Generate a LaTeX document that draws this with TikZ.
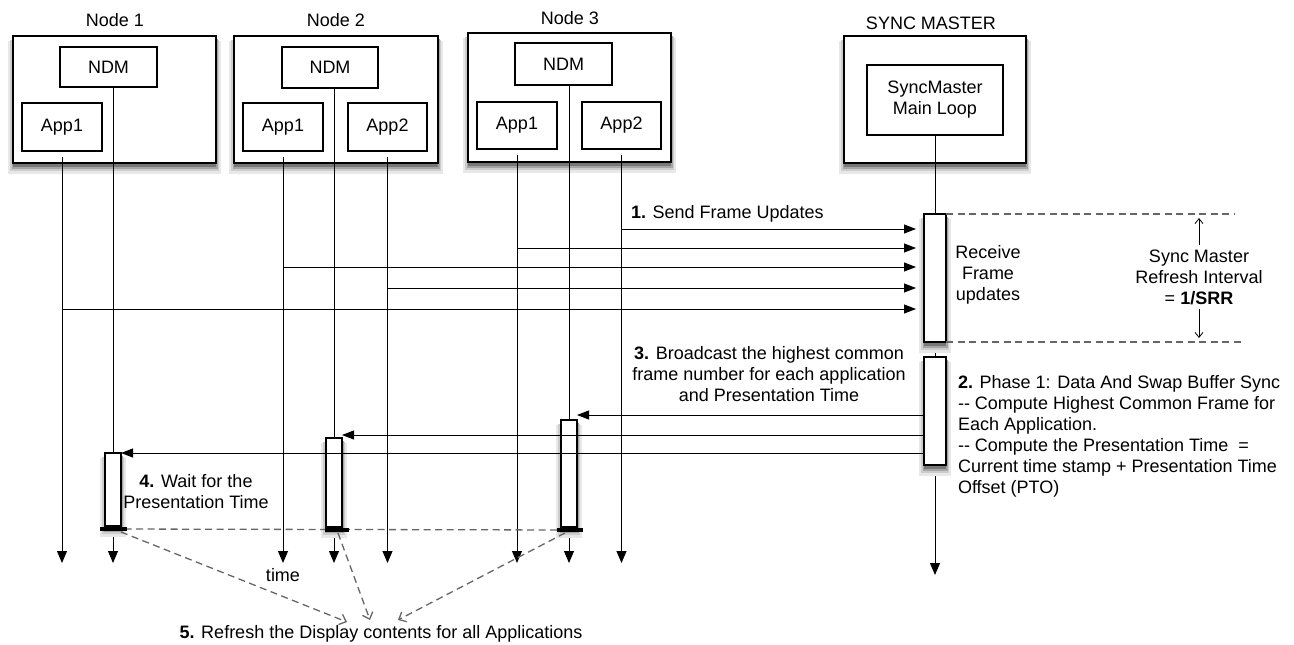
\documentclass[tikz,border=0pt]{standalone}
\usepackage{fontspec}
\setmainfont{Liberation Sans}
\usetikzlibrary{arrows.meta}
\definecolor{shA}{RGB}{232,232,232}
\definecolor{shB}{RGB}{205,205,205}
\definecolor{shC}{RGB}{165,165,165}
\definecolor{shD}{RGB}{120,120,120}
\newcommand\softshadow[4]{% x (left), y (top), width, height
  \path[fill=shA] (#1-5,#2+5) rectangle (#1+#3+5,#2+#4+11);
  \path[fill=shB] (#1-3,#2+4) rectangle (#1+#3+3,#2+#4+8);
  \path[fill=shC] (#1-1.5,#2+3) rectangle (#1+#3+1.5,#2+#4+6);
  \path[fill=shD] (#1,#2+2) rectangle (#1+#3,#2+#4+3.5);
}
\begin{document}
\begin{tikzpicture}[x=1pt,y=-1pt,
  every node/.style={font=\fontsize{18}{21}\selectfont, inner sep=0pt, outer sep=0pt},
  outer/.style={draw, line width=1.4pt, fill=white, anchor=north west},
  inbox/.style={draw, line width=1.1pt, fill=white, align=center, anchor=north west},
  act/.style={draw, line width=1.1pt, fill=white, anchor=north},
  life/.style={line width=1pt},
  lifearrow/.style={line width=1pt, -{Triangle[length=12pt,width=10pt]}},
  msg/.style={line width=1pt, -{Triangle[length=12pt,width=9pt]}},
  bar/.style={line width=3.5pt},
  dsh/.style={dash pattern=on 7pt off 4.5pt, draw=black!60, line width=1.3pt},
  dsharrow/.style={dsh, -{Straight Barb[length=6pt,width=11pt]}},
  thinarrow/.style={line width=0.8pt, -{Straight Barb[length=5pt,width=8pt]}},
  lbl/.style={align=center}
]
\useasboundingbox (0,0) rectangle (1294,645);

% shadows of outer boxes
\softshadow{13}{36}{203}{127}
\softshadow{234}{36}{204}{127}
\softshadow{468}{33}{203}{129}
\softshadow{844}{36}{182}{127}

% outer boxes
\node[outer, minimum width=203, minimum height=127] (n1) at (13,36) {};
\node[outer, minimum width=204, minimum height=127] (n2) at (234,36) {};
\node[outer, minimum width=203, minimum height=129] (n3) at (468,33) {};
\node[outer, minimum width=182, minimum height=127] (sm) at (844,36) {};

\node (n1t) at (115,20) {Node 1};
\node (n2t) at (336,20) {Node 2};
\node (n3t) at (570,18) {Node 3};
\node (smt) at (931,23) {SYNC MASTER};

% inner boxes
\node[inbox, minimum width=97, minimum height=40] (n1ndm) at (60,47) {NDM};
\node[inbox, minimum width=80, minimum height=48] (n1a1) at (22,103) {App1};
\node[inbox, minimum width=96, minimum height=41] (n2ndm) at (282,47) {NDM};
\node[inbox, minimum width=80, minimum height=48] (n2a1) at (243,103) {App1};
\node[inbox, minimum width=79, minimum height=48] (n2a2) at (348,103) {App2};
\node[inbox, minimum width=97, minimum height=42] (n3ndm) at (515,43) {NDM};
\node[inbox, minimum width=80, minimum height=47] (n3a1) at (477,102) {App1};
\node[inbox, minimum width=79, minimum height=47] (n3a2) at (582,102) {App2};
\node[inbox, minimum width=136, minimum height=70] (loop) at (867,65) {SyncMaster\\Main Loop};

% end levels
\coordinate (yend) at (0,563);
\coordinate (ysmend) at (0,575);

% activation box positions (drawn later on top)
\path (113,453) node[act, draw=none, fill=none, minimum width=16, minimum height=73] (n1act) {};
\path (334,438) node[act, draw=none, fill=none, minimum width=16, minimum height=89] (n2act) {};
\path (569,420) node[act, draw=none, fill=none, minimum width=16, minimum height=107] (n3act) {};
\path (935,214) node[act, draw=none, fill=none, minimum width=22, minimum height=128] (smA) {};
\path (935,357) node[act, draw=none, fill=none, minimum width=22, minimum height=108] (smB) {};

\coordinate (b1) at ([yshift=-3pt]n1act.south);
\coordinate (b2) at ([yshift=-3pt]n2act.south);
\coordinate (b3) at ([yshift=-3pt]n3act.south);

% app lifelines
\draw[lifearrow] ([yshift=-6pt]n1a1.south) -- (n1a1.south |- yend);
\draw[lifearrow] ([yshift=-6pt]n2a1.south) -- (n2a1.south |- yend);
\draw[lifearrow] ([yshift=-6pt]n2a2.south) -- (n2a2.south |- yend);
\draw[lifearrow] ([yshift=-6pt]n3a1.south) -- (n3a1.south |- yend);
\draw[lifearrow] ([yshift=-6pt]n3a2.south) -- (n3a2.south |- yend);

% NDM lifelines
\draw[life] (n1act.north |- n1ndm.south) -- (n1act.north);
\draw[life] (n2act.north |- n2ndm.south) -- (n2act.north);
\draw[life] (n3act.north |- n3ndm.south) -- (n3act.north);
\draw[lifearrow] (b1) -- (b1 |- yend);
\draw[lifearrow] (b2) -- (b2 |- yend);
\draw[lifearrow] (b3) -- (b3 |- yend);

% sync master lifeline
\draw[life] (loop.south) -- (smA.north);
\draw[life] (smA.south) -- (smB.north);
\draw[lifearrow] (smB.south) -- (smB.south |- ysmend);

% activation boxes with shadows
\softshadow{105}{453}{16}{73}
\softshadow{326}{438}{16}{89}
\softshadow{561}{420}{16}{107}
\softshadow{924}{214}{22}{128}
\softshadow{924}{357}{22}{108}
\node[act, minimum width=16, minimum height=73] at (n1act.north) {};
\node[act, minimum width=16, minimum height=89] at (n2act.north) {};
\node[act, minimum width=16, minimum height=107] at (n3act.north) {};
\node[act, minimum width=22, minimum height=128] at (smA.north) {};
\node[act, minimum width=22, minimum height=108] at (smB.north) {};

% send frame updates
\coordinate (s1) at (0,229);
\coordinate (s2) at (0,248);
\coordinate (s3) at (0,267);
\coordinate (s4) at (0,288);
\coordinate (s5) at (0,309);
\draw[msg, shorten >=8pt] (n3a2.south |- s1) -- (smA.west |- s1);
\draw[msg, shorten >=8pt] (n3a1.south |- s2) -- (smA.west |- s2);
\draw[msg, shorten >=8pt] (n2a1.south |- s3) -- (smA.west |- s3);
\draw[msg, shorten >=8pt] (n2a2.south |- s4) -- (smA.west |- s4);
\draw[msg, shorten >=8pt] (n1a1.south |- s5) -- (smA.west |- s5);

% broadcast
\draw[msg] (smB.west |- n3act.north) ++(0,-5) coordinate (r3) (r3) -- (n3act.north east |- r3);
\draw[msg] (smB.west |- n2act.north) ++(0,-3) coordinate (r2) (r2) -- (n2act.north east |- r2);
\draw[msg] (smB.west |- n1act.north) ++(0,0) coordinate (r1) (r1) -- (n1act.north east |- r1);

% presentation time dashed line and bars
\draw[dsh] (b1) -- (b3);
\draw[bar] ([xshift=-13pt]b1) -- ([xshift=14pt]b1);
\draw[bar] ([xshift=-9pt]b2) -- ([xshift=15pt]b2);
\draw[bar] ([xshift=-12pt]b3) -- ([xshift=14pt]b3);

% interval
\draw[dsh] (smA.north east) -- ++(288,0) coordinate (iA);
\draw[dsh] (smA.south east) -- ++(298,0) coordinate (iB);
\node[lbl] (ival) at (1199,277) {Sync Master\\Refresh Interval\\= \textbf{1/SRR}};
\draw[thinarrow] ([yshift=5pt]ival.north) -- ([yshift=-4pt]ival.north |- iA);
\draw[thinarrow] ([yshift=-5pt]ival.south) -- ([yshift=4pt]ival.south |- iB);

% labels
\node[anchor=west] (l1) at (631,214) {\textbf{1.} Send Frame Updates};
\node[lbl] (recv) at (988,275) {Receive\\Frame\\updates};
\node[lbl] (l3) at (769,374) {\textbf{3.} Broadcast the highest common\\frame number for each application\\and Presentation Time};
\node[align=left, anchor=north west] (l2) at (958,375) {\textbf{2.} Phase 1: Data And Swap Buffer Sync\\-{}- Compute Highest Common Frame for\\Each Application.\\-{}- Compute the Presentation Time \ =\\Current time stamp + Presentation Time\\Offset (PTO)};
\node[lbl] (l4) at (196,492) {\textbf{4.} Wait for the\\Presentation Time};
\node (tm) at (283,575) {time};
\node (l5) at (381,634) {\textbf{5.} Refresh the Display contents for all Applications};

% refresh arrows
\coordinate (t1) at (347,622);
\coordinate (t2) at (370,620);
\coordinate (t3) at (398,620);
\draw[dsharrow] ([xshift=8pt,yshift=-3pt]b1) -- (t1);
\draw[dsharrow] ([xshift=4pt,yshift=-3pt]b2) -- (t2);
\draw[dsharrow] ([xshift=-4pt,yshift=-3pt]b3) -- (t3);
\end{tikzpicture}
\end{document}
